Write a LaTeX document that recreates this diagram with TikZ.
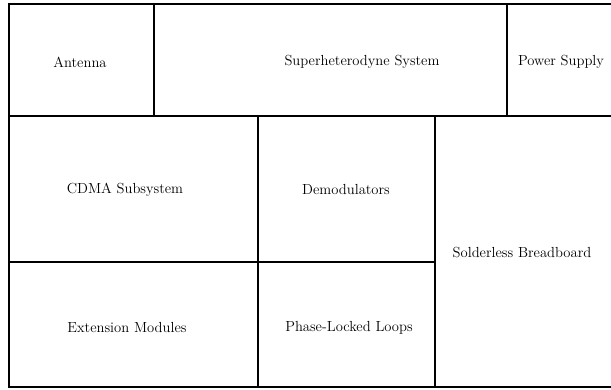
\documentclass[tikz,border=0pt]{standalone}
\usepackage{tikz}

\begin{document}
\begin{tikzpicture}[x=1pt,y=1pt,
    cell/.style={draw, line width=1.1pt},
    lbl/.style={font=\fontsize{14.6}{17}\selectfont}]
            \useasboundingbox (0,0) rectangle (611,389);
            % top row
            \draw[cell] (9,273) rectangle (154,385);
            \draw[cell] (154,273) rectangle (507,385);
            \draw[cell] (507,273) rectangle (614,385);
            % lower part
            \draw[cell] (9,127) rectangle (258,273);
            \draw[cell] (258,127) rectangle (435,273);
            \draw[cell] (9,2) rectangle (258,127);
            \draw[cell] (258,2) rectangle (435,127);
            \draw[cell] (435,2) rectangle (614,273);
            % labels
            \node[lbl] (antenna) at (80,327) {Antenna};
            \node[lbl] (super) at (362,327) {Superheterodyne System};
            \node[lbl] (power) at (561,327) {Power Supply};
            \node[lbl] (cdma) at (125,199) {CDMA Subsystem};
            \node[lbl] (demod) at (346,199) {Demodulators};
            \node[lbl] (bread) at (522,136) {Solderless Breadboard};
            \node[lbl] (ext) at (127,61) {Extension Modules};
            \node[lbl] (pll) at (349,61) {Phase-Locked Loops};
        \end{tikzpicture}
\end{document}
